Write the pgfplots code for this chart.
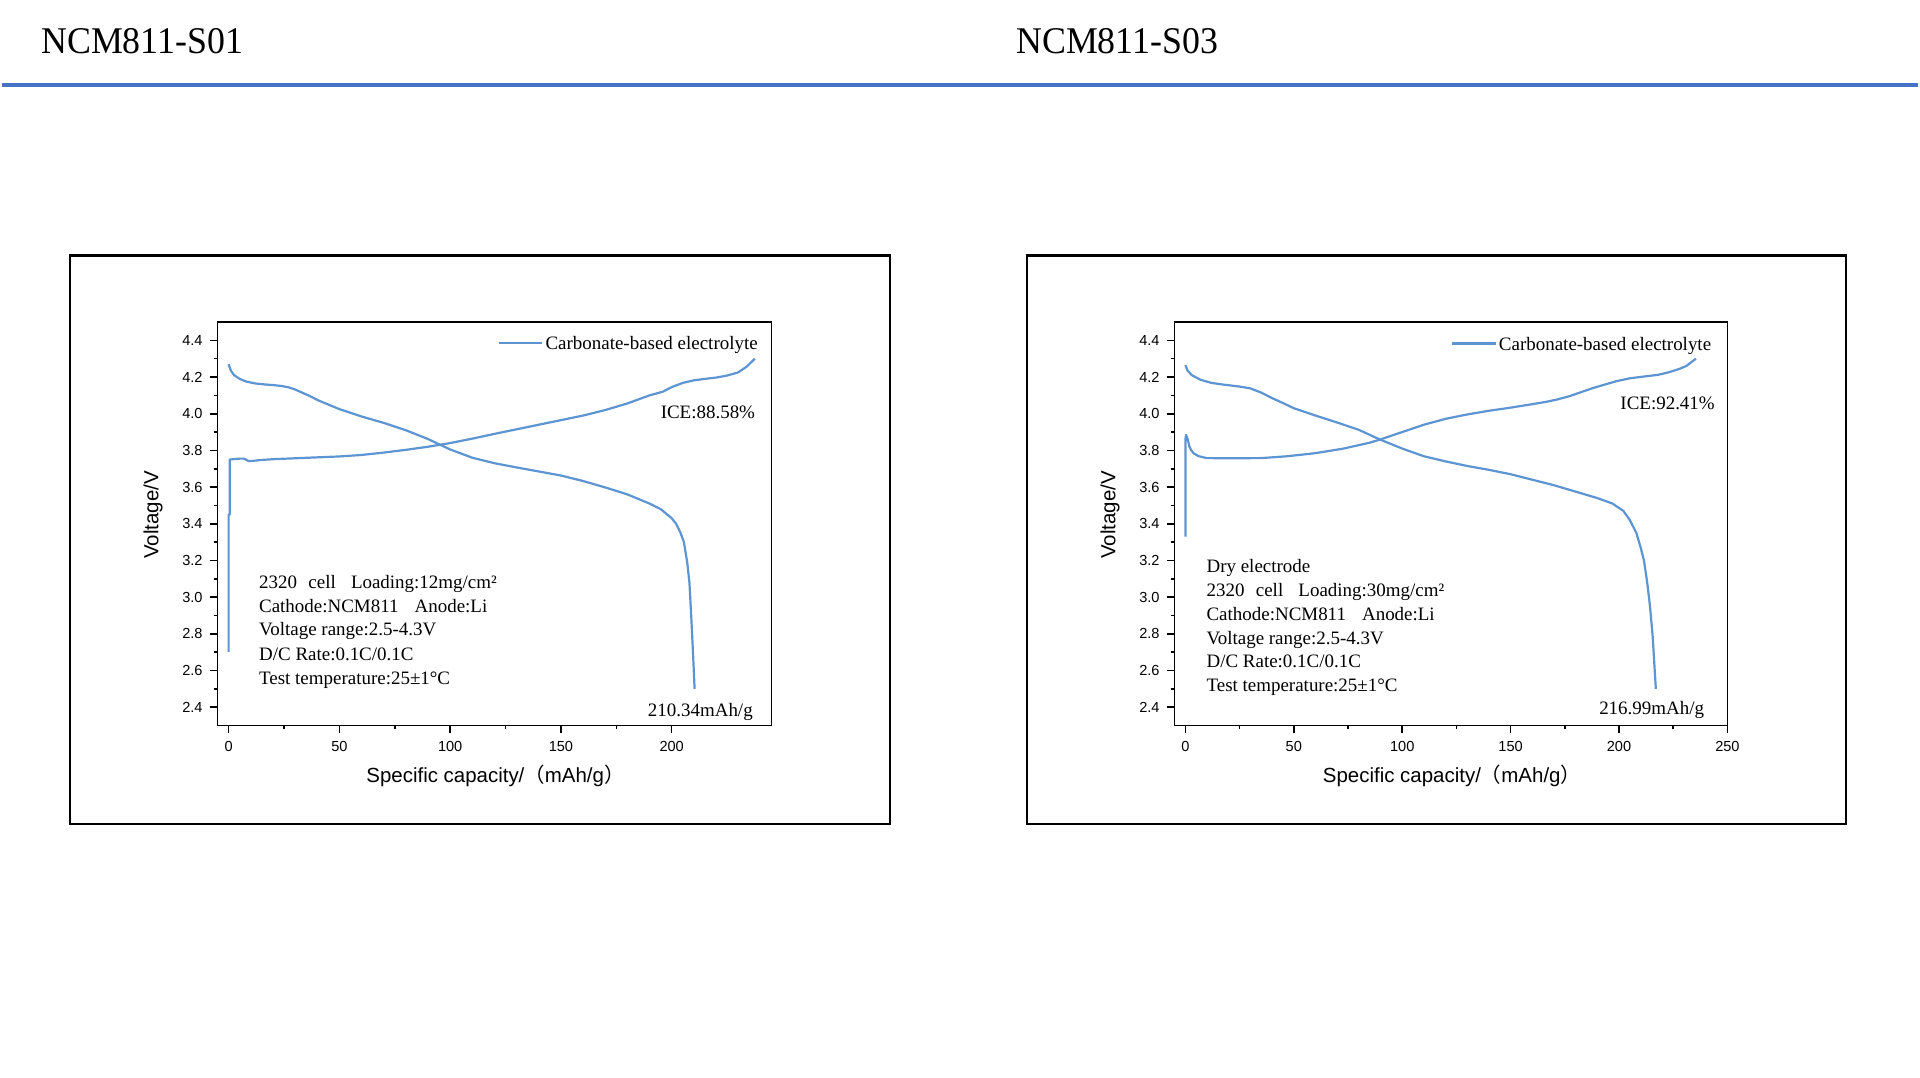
\documentclass[border=0pt]{standalone}
\usepackage{fontspec}
\setmainfont{Liberation Serif}
\setsansfont{Liberation Sans}
\newfontfamily\cjk{Noto Sans CJK SC}
\usepackage{graphicx}
\usepackage{pgfplots}
\pgfplotsset{compat=1.18}

\definecolor{rulecol}{RGB}{68,114,196}
\definecolor{curvecol}{RGB}{93,148,210}

\newcommand{\notefont}{\rmfamily\fontsize{9.5pt}{12pt}\selectfont}
\newcommand{\labelfont}{\sffamily\fontsize{10.25pt}{12.5pt}\selectfont}
\newcommand{\tickfont}{\sffamily\fontsize{7.3pt}{8.8pt}\selectfont}

\pgfplotsset{
  panel/.style={
    scale only axis, width=277.5pt, height=202.15pt, anchor=south west,
    ymin=2.3, ymax=4.5,
    ytick={2.4,2.6,2.8,3.0,3.2,3.4,3.6,3.8,4.0,4.2,4.4},
    minor x tick num=1, minor y tick num=1,
    tick align=outside, xtick pos=left, ytick pos=left,
    major tick length=4pt, minor tick length=2pt,
    every tick/.style={black, line width=0.8pt},
    axis line style={black, line width=0.8pt},
    tick label style={font=\tickfont, /pgf/number format/assume math mode=true},
    yticklabel style={/pgf/number format/fixed, /pgf/number format/fixed zerofill,
                      /pgf/number format/precision=1},
    xticklabel style={yshift=-0.6pt},
    xlabel={Specific capacity/{\cjk （}mAh/g{\cjk ）}},
    ylabel={Voltage/V},
    every axis x label/.style={at={([xshift=0.5pt,yshift=-28.5pt]axis description cs:0.5,0)},
                               anchor=base, font=\labelfont},
    every axis y label/.style={at={([xshift=-29.65pt,yshift=4.4pt]axis description cs:0,0.5)},
                               rotate=90, anchor=base, font=\labelfont},
    legend style={draw=none, fill=none, inner sep=0pt, outer sep=0pt,
                  at={(axis description cs:1,1)}, anchor=north east,
                  font=\notefont, cells={anchor=center},
                  nodes={inner xsep=1pt, inner ysep=0pt, text depth=0pt}},
    legend image code/.code={\draw[#1] (0pt,0pt) -- (22pt,0pt);},
  },
  vcurve/.style={curvecol, line width=1.1pt, line join=round},
}

\begin{document}
\begin{tikzpicture}
% page
\fill[white] (0,0) rectangle (960pt,540pt);
\draw[rulecol, line width=2pt] (0,497.35pt) -- (960pt,497.35pt);
\node[anchor=base west, inner sep=0pt] at (19.5pt,513.35pt)
  {\fontsize{18.9pt}{22pt}\selectfont\scalebox{0.95}[1]{NCM811-S01}};
\node[anchor=base west, inner sep=0pt] at (508pt,513.35pt)
  {\fontsize{18.9pt}{22pt}\selectfont\scalebox{0.95}[1]{NCM811-S03}};

% panel frames
\draw[black, line width=1.2pt] (34pt,127pt) rectangle (445pt,412pt);
\draw[black, line width=1.2pt] (513.5pt,127pt) rectangle (924pt,412pt);

% ---------- S01 ----------
\begin{axis}[panel, at={(108pt,176.5pt)}, xmin=-5, xmax=245,
  xtick={0,50,100,150,200},
  legend style={xshift=-5.85pt, yshift=-7.15pt}]
% charge
\addplot[vcurve] coordinates {
 (0,2.70) (0,3.45) (0.5,3.45) (0.5,3.75) (2,3.752) (5,3.755) (7,3.755)
 (9,3.742) (11,3.743) (15,3.748) (20,3.752) (30,3.757) (40,3.762)
 (50,3.767) (60,3.775) (70,3.788) (80,3.803) (90,3.82) (100,3.84)
 (110,3.864) (120,3.89) (130,3.915) (140,3.94) (150,3.965) (160,3.99)
 (170,4.02) (180,4.056) (190,4.10) (196,4.12) (200,4.145) (205,4.168)
 (210,4.182) (215,4.19) (220,4.197) (225,4.208) (230,4.225) (234,4.258)
 (237.5,4.30)};
\addlegendentry{Carbonate-based electrolyte}
% discharge
\addplot[vcurve, forget plot] coordinates {
 (0,4.27) (1,4.235) (2.5,4.21) (5,4.19) (8,4.175) (12,4.165) (16,4.16)
 (21,4.155) (24,4.151) (27,4.144) (30,4.132) (33,4.116) (36,4.10) (41,4.07)
 (45,4.05) (50,4.025) (60,3.985) (70,3.95) (80,3.91) (90,3.862) (100,3.805)
 (110,3.76) (120,3.73) (130,3.707) (140,3.685) (150,3.663) (160,3.633)
 (170,3.598) (180,3.56) (190,3.51) (195,3.48) (200,3.43) (202,3.40)
 (204,3.35) (205.5,3.30) (207,3.19) (208,3.08) (208.8,2.90) (209.6,2.70)
 (210.34,2.50)};
\end{axis}
\node[anchor=base east, inner sep=0pt, font=\notefont] at (377.5pt,330.35pt) {ICE:88.58\%};
\node[anchor=base east, inner sep=0pt, font=\notefont] at (376.35pt,181.15pt) {210.34mAh/g};
\begin{scope}[every node/.style={anchor=base west, inner sep=0pt, font=\notefont}]
\node at (128.65pt,245.35pt) {2320\hspace{0.6em}cell\hspace{0.8em}Loading:12mg/cm²};
\node at (128.65pt,233.35pt) {Cathode:NCM811\hspace{0.85em}Anode:Li};
\node at (128.65pt,221.35pt) {Voltage range:2.5-4.3V};
\node at (128.65pt,209.15pt) {D/C Rate:0.1C/0.1C};
\node at (128.65pt,197.0pt) {Test temperature:25±1°C};
\end{scope}

% ---------- S03 ----------
\begin{axis}[panel, at={(587.5pt,176.5pt)}, width=277pt, xmin=-5, xmax=250,
  xtick={0,50,100,150,200,250},
  legend style={xshift=-7.15pt, yshift=-7.5pt}]
% charge
\addplot[vcurve] coordinates {
 (0,3.33) (0,3.86) (0.3,3.885) (1.1,3.86) (1.8,3.823) (2.6,3.802)
 (3.8,3.784) (6,3.769) (9.7,3.758) (20,3.757) (35,3.758) (47,3.768)
 (60,3.785) (73,3.81) (85,3.842) (90,3.86) (100,3.90) (110,3.94)
 (120,3.972) (130,3.996) (140,4.016) (150,4.033) (160,4.052) (166,4.064)
 (171,4.076) (177,4.095) (188,4.14) (199,4.178) (205,4.193) (211,4.202)
 (218,4.212) (223,4.226) (228,4.245) (231,4.26) (235.5,4.30)};
\addlegendentry{Carbonate-based electrolyte}
% discharge
\addplot[vcurve, forget plot] coordinates {
 (0,4.265) (1,4.235) (3,4.21) (7,4.185) (12,4.168) (18,4.158) (25,4.148)
 (30,4.138) (35,4.115) (40,4.085) (45,4.058) (50,4.03) (60,3.99)
 (70,3.952) (80,3.912) (90,3.858) (100,3.81) (110,3.768) (120,3.74)
 (130,3.715) (140,3.694) (150,3.67) (160,3.64) (170,3.61) (180,3.575)
 (190,3.54) (197,3.51) (202,3.47) (205,3.42) (208,3.35) (210,3.27)
 (211.5,3.20) (213,3.08) (214.3,2.95) (215.5,2.79) (216.99,2.50)};
\end{axis}
\node[anchor=base east, inner sep=0pt, font=\notefont] at (858.35pt,334.65pt) {ICE:92.41\%};
\node[anchor=base east, inner sep=0pt, font=\notefont] at (853pt,182.2pt) {216.99mAh/g};
\begin{scope}[every node/.style={anchor=base west, inner sep=0pt, font=\notefont}]
\node at (603.35pt,253.35pt) {Dry electrode};
\node at (603.35pt,241.15pt) {2320\hspace{0.6em}cell\hspace{0.8em}Loading:30mg/cm²};
\node at (603.35pt,229.15pt) {Cathode:NCM811\hspace{0.85em}Anode:Li};
\node at (603.35pt,217.15pt) {Voltage range:2.5-4.3V};
\node at (603.35pt,205.35pt) {D/C Rate:0.1C/0.1C};
\node at (603.35pt,193.35pt) {Test temperature:25±1°C};
\end{scope}
\end{tikzpicture}
\end{document}
